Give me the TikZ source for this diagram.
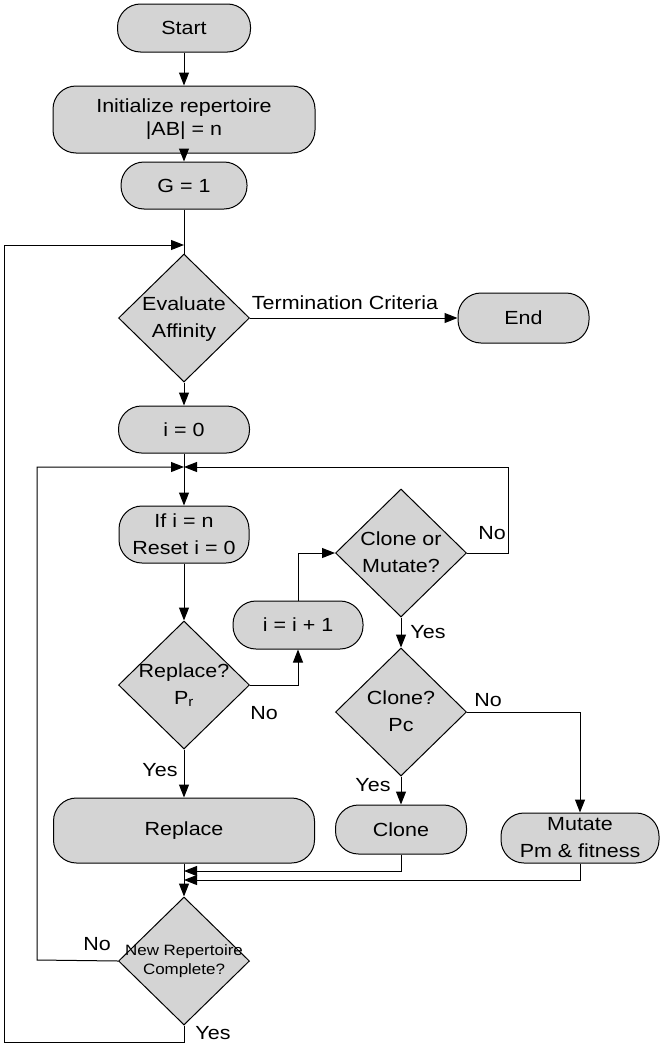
\documentclass[tikz,border=0pt]{standalone}
\usepackage{fontspec}
\setmainfont[FakeStretch=1.13]{Liberation Sans}
\usetikzlibrary{shapes.geometric,arrows.meta}
% text set inside a diamond without widening it
\newcommand\dtext[1]{\raisebox{-0.25em}[0pt][0pt]{\makebox[0pt]{\begin{tabular}{@{}c@{}}#1\end{tabular}}}}
\tikzset{
  pill/.style={draw, line width=1pt, fill=black!17, rounded corners=23pt,
    inner sep=0pt, align=center, font=\fontsize{19}{27}\selectfont},
  decide/.style={draw, line width=1pt, fill=black!17, shape=diamond,
    inner sep=0pt, minimum width=131pt, minimum height=128pt,
    font=\fontsize{19}{27}\selectfont},
  conn/.style={line width=1pt},
  arr/.style={line width=1pt, -{Triangle[length=13pt,width=10pt]}},
  lbl/.style={inner sep=0pt, font=\fontsize{19}{23}\selectfont},
}
\begin{document}
\begin{tikzpicture}[x=1pt, y=-1pt]
\useasboundingbox (0,0) rectangle (660,1044);

% process steps and decisions
\node[pill, minimum width=133pt, minimum height=48pt] (start) at (184,28) {Start};
\node[pill, minimum width=262pt, minimum height=67pt, font=\fontsize{19}{23}\selectfont] (init) at (184,119.5) {Initialize repertoire\\|AB| = n};
\node[pill, minimum width=126pt, minimum height=47pt] (g1) at (184,185.5) {G = 1};
\node[decide] (eval) at (184,318) {\dtext{Evaluate\\Affinity}};
\node[pill, minimum width=131pt, minimum height=50pt] (end) at (523.5,318) {End};
\node[pill, minimum width=131pt, minimum height=47pt] (i0) at (184,429.5) {i = 0};
\node[pill, minimum width=130pt, minimum height=57pt] (ifn) at (184,534.5) {If i = n\\Reset i = 0};
\node[decide] (repq) at (184,685) {\dtext{Replace?\\P\textsubscript{r}}};
\node[pill, minimum width=130pt, minimum height=48pt] (inc) at (298,625) {i = i + 1};
\node[decide] (com) at (401,553) {\dtext{Clone or\\Mutate?}};
\node[decide] (cloneq) at (401,712) {\dtext{Clone?\\Pc}};
\node[pill, minimum width=261pt, minimum height=65pt] (rep) at (184,830.5) {Replace};
\node[pill, minimum width=131pt, minimum height=49pt] (clone) at (401,829.5) {Clone};
\node[pill, minimum width=158pt, minimum height=50pt] (mut) at (580,838) {Mutate\\Pm \& fitness};
\node[decide, font=\fontsize{15}{19}\selectfont] (newrep) at (184,961) {\dtext{New Repertoire\\Complete?}};

% branch labels
\node[lbl] (ltc) at (345,303) {Termination Criteria};
\node[lbl] (lcomno) at (492,533) {No};
\node[lbl] (lcomyes) at (428,632) {Yes};
\node[lbl] (lclno) at (488,700) {No};
\node[lbl] (lclyes) at (373,785) {Yes};
\node[lbl] (lrepno) at (264,713) {No};
\node[lbl] (lrepyes) at (160,770) {Yes};
\node[lbl] (lnrno) at (97,944) {No};
\node[lbl] (lnryes) at (213,1033) {Yes};

% junctions and loop corners
\coordinate (j1) at (184,245);
\coordinate (j2) at (184,467);
\coordinate (m1) at (184,871);
\coordinate (m2) at (184,880);
\coordinate (ob) at (4,1042);
\coordinate (ot) at (4,245);
\coordinate (ib) at (37,960);
\coordinate (it) at (37,467);
\coordinate (rb) at (508,553);
\coordinate (rt) at (508,467);

% main flow
\draw[arr] (start.south) -- (init.north);
\draw[arr] (init.south) -- (g1.north);
\draw[conn] (g1.south) -- (eval.north);
\draw[arr] (eval.east) -- (end.west);
\draw[arr] (eval.south) -- (i0.north);
\draw[arr] (i0.south) -- (ifn.north);
\draw[arr] (ifn.south) -- (repq.north);
\draw[arr] (repq.east) -| (inc.south);
\draw[arr] (inc.north) |- (com.west);
\draw[arr] (com.east) -- (rb) -- (rt) -- (j2);
\draw[arr] (com.south) -- (cloneq.north);
\draw[arr] (cloneq.east) -| (mut.north);
\draw[arr] (cloneq.south) -- (clone.north);
\draw[arr] (repq.south) -- (rep.north);
\draw[arr] (rep.south) -- (newrep.north);
\draw[arr] (clone.south) |- (m1);
\draw[arr] (mut.south) |- (m2);

% loops back
\draw[arr] (newrep.west) -- (ib) -- (it) -- (j2);
\draw[arr] (newrep.south) |- (ob) -- (ot) -- (j1);
\end{tikzpicture}
\end{document}
